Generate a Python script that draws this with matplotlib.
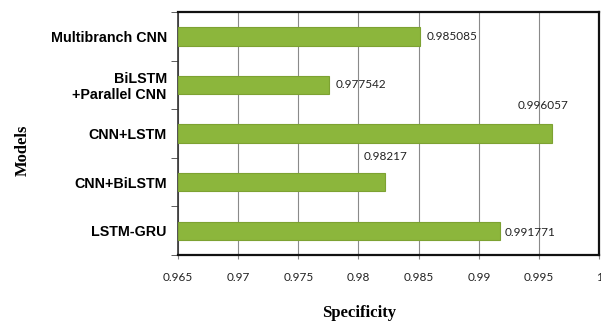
import matplotlib.pyplot as plt

# data
models = ["Multibranch CNN", "BiLSTM\n+Parallel CNN", "CNN+LSTM", "CNN+BiLSTM", "LSTM-GRU"]
specificity = [0.985085, 0.977542, 0.996057, 0.98217, 0.991771]
value_labels = ["0.985085", "0.977542", "0.996057", "0.98217", "0.991771"]
x_ticks = [0.965, 0.97, 0.975, 0.98, 0.985, 0.99, 0.995, 1.0]
x_tick_labels = ["0.965", "0.97", "0.975", "0.98", "0.985", "0.99", "0.995", "1"]

# label offsets in pixels (style only)
label_offsets = [(7, 0), (7, 0), (-34, 28), (-21, 26), (4, -2)]

fig = plt.figure(figsize=(6.01, 3.27), dpi=100)
ax = fig.add_axes([0.296, 0.22, 0.701, 0.743])

pos = list(range(len(models)))
ax.barh(pos, [v - x_ticks[0] for v in specificity], left=x_ticks[0], height=0.38,
        color="#8cb63c", edgecolor="#7da232", linewidth=0.8, zorder=3)

for i, v in enumerate(specificity):
    dx, dy = label_offsets[i]
    ax.annotate(value_labels[i], (v, i), xytext=(dx, dy), textcoords="offset pixels",
                ha="left", va="center", fontsize=8.5, family="Lato", color="#222222")

ax.set_xlim(x_ticks[0], x_ticks[-1])
ax.set_ylim(len(models) - 0.5, -0.5)
ax.set_xticks(x_ticks)
ax.set_xticklabels(x_tick_labels, fontsize=8.5, family="Lato", color="#222222")
ax.set_yticks(pos)
ax.set_yticklabels(models, fontsize=10.3, family="Liberation Sans", fontweight="bold",
                   linespacing=1.15)
ax.set_yticks([p - 0.5 for p in range(len(models) + 1)], minor=True)
ax.tick_params(axis="y", which="major", length=0, pad=8)
ax.tick_params(axis="y", which="minor", length=5, direction="out", color="#444444")
ax.tick_params(axis="x", length=3, direction="out", color="#888888", pad=9)

ax.grid(axis="x", color="#8a8a8a", linewidth=0.8, zorder=0)
for side in ["top", "right", "bottom"]:
    ax.spines[side].set_linewidth(1.6)
    ax.spines[side].set_color("#111111")
ax.spines["left"].set_linewidth(1.2)
ax.spines["left"].set_color("#333333")

ax.set_xlabel("Specificity", family="Liberation Serif", fontweight="bold", fontsize=12)
ax.set_ylabel("Models", family="Liberation Serif", fontweight="bold", fontsize=12)
ax.xaxis.set_label_coords(0.43, -0.205)
ax.yaxis.set_label_coords(-0.35, 0.43)

fig.savefig("out.png", dpi=100)
